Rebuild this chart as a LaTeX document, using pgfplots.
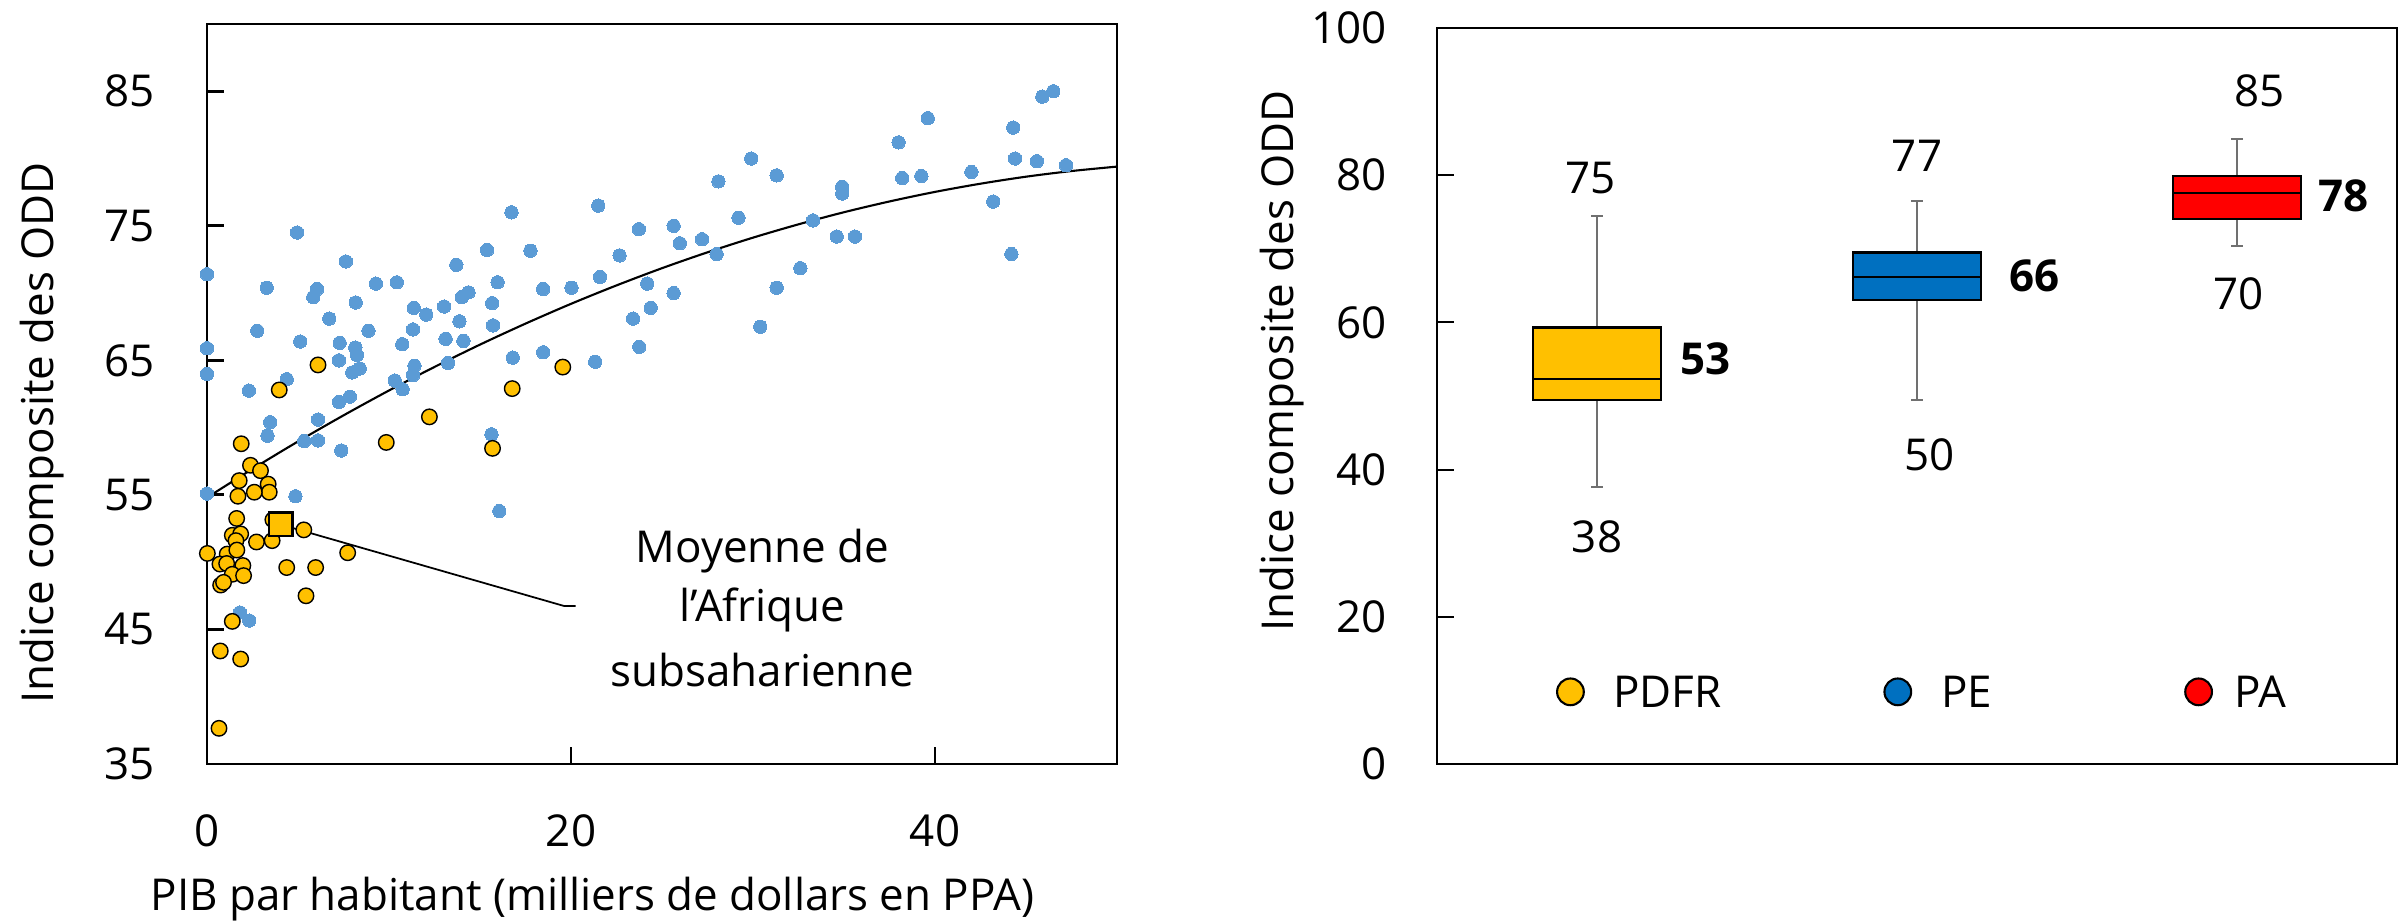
\documentclass[border=0pt]{standalone}
\usepackage{fontspec}
\setmainfont{Open Sans}
\usepackage{pgfplots}
\pgfplotsset{compat=1.18}

\definecolor{ptblue}{HTML}{5B9BD5}
\definecolor{ptyellow}{HTML}{FFC000}
\definecolor{bxblue}{HTML}{0070C0}
\definecolor{bxred}{HTML}{FF0000}
\definecolor{whisk}{HTML}{707070}

\pgfplotsset{
  panel/.style={
    scale only axis, anchor=south west, clip=false,
    tick align=inside, major tick length=0.17cm,
    xtick pos=bottom, ytick pos=left,
    tick style={black},
    /pgf/number format/assume math mode=true,
  },
  whisker/.style={whisk, line width=0.6pt},
  boxfill/.style={draw=black, fill=#1, line width=0.6pt},
}

\begin{document}
\fontsize{12.5}{15}\selectfont
\begin{tikzpicture}
\useasboundingbox (0,0) rectangle (24.07,9.22);

% left: scatter
\begin{axis}[panel,
  at={(2.07cm,1.58cm)}, width=9.10cm, height=7.40cm,
  xmin=0, xmax=50, ymin=35, ymax=90,
  xtick={0,20,40}, ytick={35,45,...,85},
  axis line style={line width=0.8pt}, tick style={line width=0.8pt},
  yticklabel style={xshift=-0.37cm},
  xticklabel style={yshift=-0.35cm},
]
\addplot[only marks, mark=*, mark size=1.9pt,
  mark options={draw=ptblue, fill=ptblue, line width=0pt}] coordinates {
(0,71.4) (0,65.9) (0,64.0) (0,55.1)
(4.95,74.5) (3.28,70.4) (2.76,67.2) (2.30,62.75) (3.47,60.4) (3.32,59.4)
(4.38,63.6) (5.12,66.4) (5.34,59.0) (4.86,54.9) (6.05,70.3) (5.84,69.7)
(6.10,60.6) (6.10,59.05) (6.72,68.1) (7.63,72.35) (8.17,69.3) (7.29,66.3)
(7.25,65.0) (8.15,65.95) (8.24,65.4) (7.98,64.1) (8.39,64.4) (7.25,61.9)
(7.85,62.3) (7.38,58.3) (8.87,67.2) (9.28,70.7) (10.43,70.8) (10.73,66.2)
(11.36,68.9) (11.32,67.3) (12.05,68.4) (11.40,64.6) (11.32,63.9) (10.32,63.5)
(10.75,62.85) (13.03,69.0) (13.70,72.1) (14.0,69.7) (14.37,70.05) (13.87,67.9)
(13.11,66.6) (14.09,66.45) (13.24,64.8) (15.39,73.2) (15.97,70.8) (15.67,69.25)
(15.72,67.6) (16.73,76.0) (16.80,65.2) (15.63,59.5) (16.06,53.8) (17.77,73.15)
(18.47,70.3) (18.47,65.6) (20.03,70.4) (21.5,76.5) (21.6,71.2) (21.33,64.9)
(22.67,72.8) (23.73,74.75) (24.19,70.7) (24.38,68.9) (23.41,68.1) (23.75,66.0)
(25.64,75.0) (25.98,73.7) (25.64,70.0)
(1.81,46.26) (2.32,45.66)
(27.2,74.0) (28.1,78.3) (28.0,72.9) (29.2,75.6) (29.9,80.0) (30.4,67.5)
(31.3,78.75) (31.3,70.4) (32.6,71.85) (33.3,75.4) (34.6,74.2) (35.6,74.2)
(34.9,77.9) (34.9,77.4) (38.0,81.2) (38.2,78.55) (39.25,78.7) (39.6,83.0)
(42.0,79.0) (43.2,76.8) (44.2,72.9) (44.3,82.3) (44.4,80.0) (45.6,79.8)
(45.9,84.6) (46.5,85.0) (47.2,79.5)
};
\addplot[only marks, mark=*, mark size=2.2pt,
  mark options={draw=black, fill=ptyellow, line width=0.4pt}] coordinates {
(1.88,58.8) (2.39,57.2) (2.94,56.8) (1.77,56.06) (3.36,55.8) (3.42,55.2)
(2.60,55.2) (1.70,54.9) (1.63,53.25) (3.62,53.15) (5.32,52.4) (1.39,52.0)
(1.85,52.1) (1.59,51.6) (2.72,51.5) (3.58,51.6) (0.02,50.65) (1.11,50.6)
(1.64,50.9) (7.73,50.7) (0.71,49.86) (1.08,49.9) (1.97,49.75) (1.39,49.1)
(2.01,49.0) (0.75,48.3) (0.91,48.5) (4.38,49.6) (5.97,49.6) (5.44,47.5)
(1.39,45.6) (0.73,43.4) (1.85,42.8) (0.66,37.65) (12.22,60.8) (9.85,58.9)
(15.69,58.46) (6.10,64.66) (3.97,62.8) (16.77,62.9) (19.55,64.5)
};
\addplot[only marks, mark=square*, mark size=3.4pt,
  mark options={draw=black, fill=ptyellow, line width=0.6pt}] coordinates {(4.04,52.8)};
% trend curve
\addplot[black, line width=0.6pt, smooth] coordinates {
(0,54.8) (2.5,56.93) (5,58.97) (7.5,60.91) (10,62.76) (12.5,64.51) (15,66.17)
(17.5,67.73) (20,69.2) (22.5,70.57) (25,71.85) (27.5,73.03) (30,74.12)
(32.5,75.11) (35,76.01) (37.5,76.81) (40,77.52) (42.5,78.13) (45,78.65)
(47.5,79.07) (50,79.4)
};
% leader line
\addplot[black, line width=0.5pt] coordinates {(4.04,52.8) (19.6,46.75) (20.25,46.75)};
\end{axis}

% right: box plots (PDFR at 1, PE at 2, PA at 3)
\begin{axis}[panel,
  at={(14.37cm,1.58cm)}, width=9.60cm, height=7.36cm,
  xmin=0.5, xmax=3.5, ymin=0, ymax=100,
  xtick=\empty, ytick={0,20,...,100},
  axis line style={line width=0.6pt}, tick style={line width=0.6pt},
  yticklabel style={xshift=-0.35cm},
]
% PDFR: whiskers 37.65 / 74.4, quartiles 49.5 / 59.3, median 52.3
\addplot[whisker] coordinates {(1,59.3) (1,74.4)};
\addplot[whisker] coordinates {(0.9825,74.4) (1.0175,74.4)};
\addplot[whisker] coordinates {(1,49.5) (1,37.65)};
\addplot[whisker] coordinates {(0.9825,37.65) (1.0175,37.65)};
\addplot[boxfill=ptyellow] coordinates {(0.8,49.5) (1.2,49.5) (1.2,59.3) (0.8,59.3)} -- cycle;
\addplot[black, line width=0.6pt] coordinates {(0.8,52.3) (1.2,52.3)};
% PE: whiskers 49.5 / 76.5, quartiles 63.0 / 69.5, median 66.2
\addplot[whisker] coordinates {(2,69.5) (2,76.5)};
\addplot[whisker] coordinates {(1.9825,76.5) (2.0175,76.5)};
\addplot[whisker] coordinates {(2,63.0) (2,49.5)};
\addplot[whisker] coordinates {(1.9825,49.5) (2.0175,49.5)};
\addplot[boxfill=bxblue] coordinates {(1.8,63.0) (2.2,63.0) (2.2,69.5) (1.8,69.5)} -- cycle;
\addplot[black, line width=0.6pt] coordinates {(1.8,66.2) (2.2,66.2)};
% PA: whiskers 70.4 / 84.9, quartiles 74.1 / 79.85, median 77.6
\addplot[whisker] coordinates {(3,79.85) (3,84.9)};
\addplot[whisker] coordinates {(2.9825,84.9) (3.0175,84.9)};
\addplot[whisker] coordinates {(3,74.1) (3,70.4)};
\addplot[whisker] coordinates {(2.9825,70.4) (3.0175,70.4)};
\addplot[boxfill=bxred] coordinates {(2.8,74.1) (3.2,74.1) (3.2,79.85) (2.8,79.85)} -- cycle;
\addplot[black, line width=0.6pt] coordinates {(2.8,77.6) (3.2,77.6)};

% legend markers
\addplot[only marks, mark=*, mark size=3.8pt,
  mark options={draw=black, fill=ptyellow, line width=0.6pt}] coordinates {(0.917,9.8)};
\addplot[only marks, mark=*, mark size=3.8pt,
  mark options={draw=black, fill=bxblue, line width=0.6pt}] coordinates {(1.94,9.8)};
\addplot[only marks, mark=*, mark size=3.8pt,
  mark options={draw=black, fill=bxred, line width=0.6pt}] coordinates {(2.88,9.8)};
\node[anchor=west] at (1.003,9.8) {PDFR};
\node[anchor=west] at (2.028,9.8) {PE};
\node[anchor=west] at (2.944,9.8) {PA};

% value labels
\node at (0.98,79.6) {75};
\node at (1.0,30.9) {38};
\node at (2.0,82.6) {77};
\node at (2.04,42.0) {50};
\node at (3.07,91.5) {85};
\node at (3.005,63.9) {70};
\node[font=\bfseries] at (1.34,55.0) {53};
\node[font=\bfseries] at (2.367,66.3) {66};
\node[font=\bfseries] at (3.334,77.2) {78};
\end{axis}

% axis titles and annotation
\node[rotate=90, anchor=base, inner sep=0pt] at (0.53,4.89) {Indice composite des ODD};
\node[rotate=90, anchor=base, inner sep=0pt] at (12.93,5.61) {Indice composite des ODD};
\node[anchor=base west, inner sep=0pt] at (1.50,0.113) {PIB par habitant (milliers de dollars en PPA)};
\node[anchor=base, inner sep=0pt] at (7.625,3.593) {Moyenne de};
\node[anchor=base, inner sep=0pt] at (7.625,3.003) {l’Afrique};
\node[anchor=base, inner sep=0pt] at (7.625,2.353) {subsaharienne};
\end{tikzpicture}
\end{document}
